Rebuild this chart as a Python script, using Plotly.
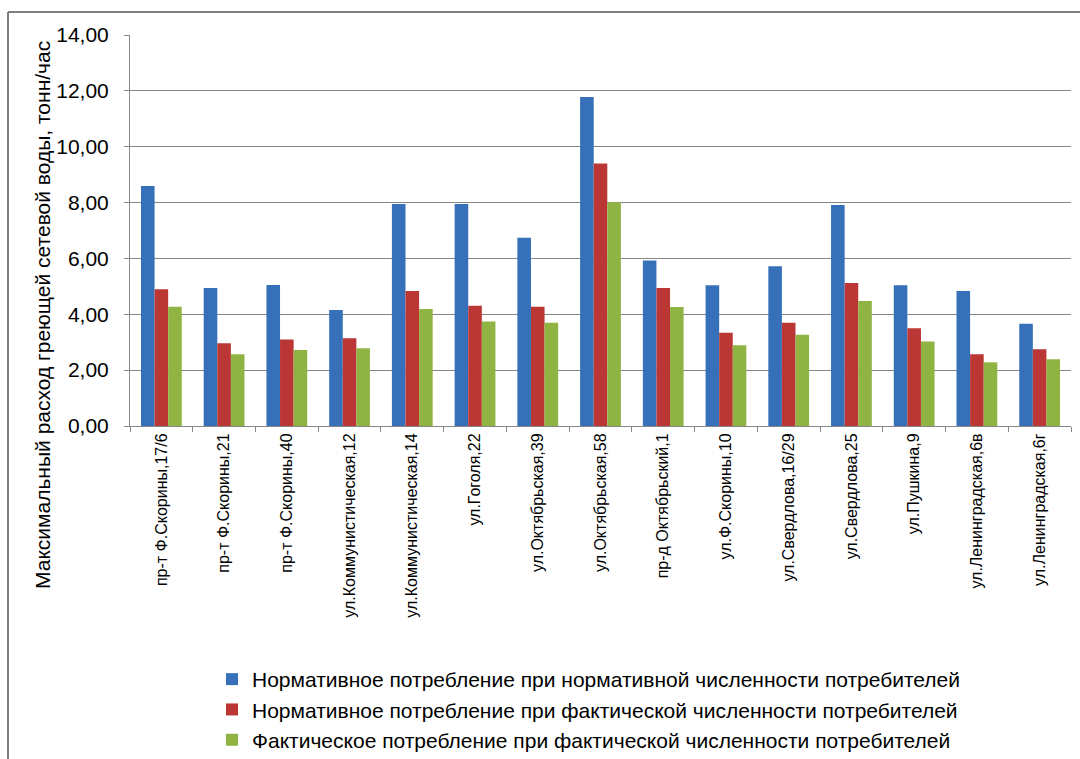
import plotly.graph_objects as go

categories = [
    "пр-т Ф.Скорины,17/6", "пр-т Ф.Скорины,21", "пр-т Ф.Скорины,40",
    "ул.Коммунистическая,12", "ул.Коммунистическая,14", "ул.Гоголя,22",
    "ул.Октябрьская,39", "ул.Октябрьская,58", "пр-д Октябрьский,1",
    "ул.Ф.Скорины,10", "ул.Свердлова,16/29", "ул.Свердлова,25",
    "ул.Пушкина,9", "ул.Ленинградская,6в", "ул.Ленинградская,6г",
]

normative_normative = [8.59, 4.94, 5.05, 4.15, 7.95, 7.95, 6.74, 11.78, 5.93, 5.04, 5.72, 7.91, 5.04, 4.83, 3.66]
normative_actual = [4.90, 2.96, 3.10, 3.14, 4.83, 4.31, 4.27, 9.40, 4.94, 3.34, 3.70, 5.12, 3.50, 2.57, 2.75]
actual_actual = [4.27, 2.57, 2.72, 2.78, 4.19, 3.74, 3.70, 8.01, 4.26, 2.89, 3.27, 4.48, 3.03, 2.28, 2.39]

series_names = [
    "Нормативное потребление при нормативной численности потребителей",
    "Нормативное потребление при фактической численности потребителей",
    "Фактическое потребление при фактической численности потребителей",
]
y_ticks = [0, 2, 4, 6, 8, 10, 12, 14]
y_title = "Максимальный расход греющей сетевой воды, тонн/час"

colors = ["#3670B8", "#BA3736", "#8FB443"]
FONT = "Liberation Sans, Arial, sans-serif"

fig = go.Figure()
for name, vals, c in zip(series_names, [normative_normative, normative_actual, actual_actual], colors):
    fig.add_trace(go.Bar(x=categories, y=vals, name=name, marker_color=c,
                         marker_line_width=0))

L, R, T, B = 130, 9, 35, 333
W, H = 1080, 759
pw, ph = W - L - R, H - T - B

def px(x):
    return (x - L) / pw

def py(y):
    return (H - B - y) / ph

fig.update_layout(
    width=W, height=H,
    margin=dict(l=L, r=R, t=T, b=B, autoexpand=False),
    paper_bgcolor="white", plot_bgcolor="white",
    separators=", ",
    barmode="group", bargap=0.35, bargroupgap=0,
    font=dict(family=FONT, size=20, color="#000000"),
    showlegend=True,
    legend=dict(orientation="v", x=px(589), xanchor="center", y=py(659), yanchor="top",
                font=dict(family=FONT, size=21), tracegroupgap=0, itemwidth=30,
                bgcolor="rgba(0,0,0,0)"),
    xaxis=dict(type="category", tickangle=-90, tickson="boundaries", ticks="outside",
               ticklen=5, tickcolor="#868686", showline=True, linecolor="#868686",
               linewidth=1, showgrid=False,
               tickfont=dict(family=FONT, size=16)),
    yaxis=dict(range=[0, 14], tickvals=y_ticks, tickformat=".2f", ticks="outside",
               ticklen=5, tickcolor="#868686", showline=True, linecolor="#868686",
               linewidth=1, showgrid=True, gridcolor="#868686", gridwidth=1,
               tickfont=dict(family=FONT, size=21), zeroline=False,
               ticklabelstandoff=11),
    annotations=[
        dict(text=y_title, xref="paper", yref="paper", x=px(42), y=py(315),
             xanchor="center", yanchor="middle", textangle=-90, showarrow=False,
             font=dict(family=FONT, size=21)),
    ],
    shapes=[
        dict(type="line", xref="paper", yref="paper", x0=px(8), x1=px(1080), y0=py(12), y1=py(12),
             line=dict(color="#7F7F7F", width=2)),
        dict(type="line", xref="paper", yref="paper", x0=px(8), x1=px(8), y0=py(12), y1=py(759),
             line=dict(color="#7F7F7F", width=2)),
    ],
)

fig.write_html("out.html")
